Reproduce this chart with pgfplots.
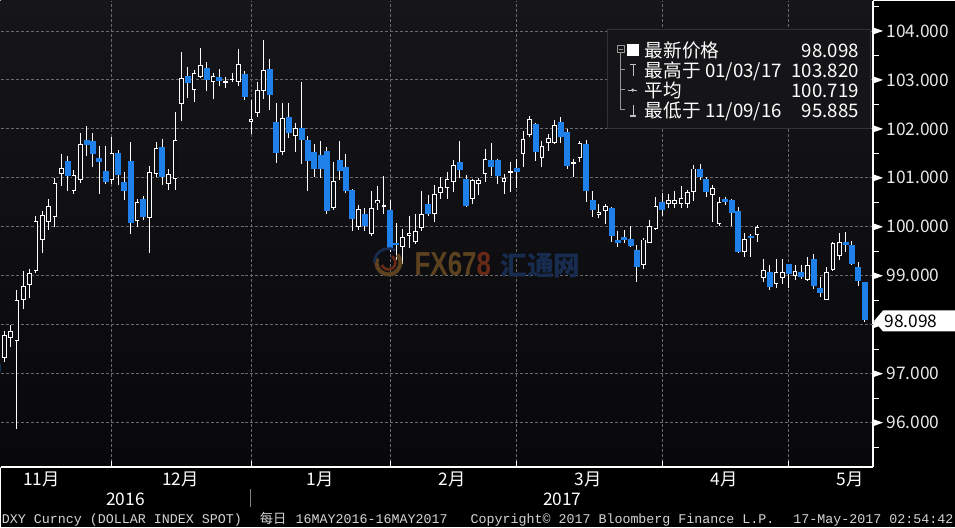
\documentclass[border=0pt]{standalone}
\usepackage{fontspec}
\usepackage{pgfplots}
\usepackage{pgfplotstable}
\pgfplotsset{compat=1.18}
\setmainfont{Noto Sans CJK SC}
\newfontfamily\mono{Liberation Mono}
\newfontfamily\cjk{Noto Sans CJK SC}
\newfontfamily\wm{Liberation Sans}

\definecolor{candleblue}{RGB}{30,128,232}
\definecolor{plotbg}{RGB}{14,14,18}
\definecolor{plottop}{RGB}{22,22,26}
\definecolor{plotbot}{RGB}{8,8,11}
\definecolor{gridc}{RGB}{105,105,110}
\definecolor{legbg}{RGB}{21,21,24}
\definecolor{legline}{RGB}{50,50,54}
\definecolor{treec}{RGB}{150,150,150}
\definecolor{foot}{RGB}{212,212,212}
\definecolor{wmorange}{RGB}{92,66,30}
\definecolor{wmred}{RGB}{104,42,22}
\definecolor{wmblue}{RGB}{24,44,80}

% i = trading day (0 = 09 Nov 2016): open, high, low, close
\pgfplotstableread{
i o h l c
-3 97.19 97.25 96.98 97.03
-2 97.34 97.88 97.24 97.78
-1 97.75 97.99 97.54 97.87
0 97.68 98.70 95.88 98.50
1 98.51 99.09 98.33 98.78
2 98.82 99.14 98.54 99.05
3 99.11 100.23 99.05 100.11
4 99.74 100.33 99.46 100.23
5 100.11 100.57 99.93 100.41
6 100.22 101.00 99.99 100.88
7 101.10 101.48 100.84 101.20
8 101.35 101.44 100.74 101.03
9 100.74 101.15 100.66 101.05
10 100.97 101.91 100.89 101.69
11 101.78 102.05 101.44 101.68
12 101.76 101.91 101.22 101.48
13 101.40 101.64 100.66 101.32
14 101.14 101.64 100.88 100.91
15 100.96 101.83 100.88 101.49
16 101.50 101.56 100.86 101.05
17 100.91 101.12 100.54 100.74
18 101.34 101.73 99.86 100.07
19 100.14 100.57 99.99 100.50
20 100.56 100.62 100.13 100.21
21 100.20 101.25 99.46 101.10
22 101.10 101.74 101.02 101.59
23 101.63 101.80 100.85 101.02
24 100.88 101.17 100.76 101.06
25 100.98 102.35 100.76 101.76
26 102.51 103.56 102.17 103.02
27 103.08 103.27 102.64 102.93
28 102.81 103.20 102.54 103.14
29 103.08 103.66 103.04 103.29
30 103.24 103.37 102.78 103.00
31 102.97 103.14 102.61 103.07
32 103.05 103.22 102.88 102.98
33 102.95 103.05 102.83 102.97
34 103.00 103.15 102.95 103.02
35 102.97 103.63 102.88 103.31
36 103.12 103.19 102.59 102.66
37 102.16 102.59 101.90 102.20
38 102.34 102.95 102.25 102.78
39 102.78 103.82 102.61 103.20
40 103.22 103.42 102.39 102.69
41 102.14 102.52 101.30 101.51
42 101.53 102.52 101.46 102.22
43 102.25 102.52 101.82 101.91
44 101.86 102.12 101.52 102.00
45 102.02 102.95 101.29 101.78
46 101.78 101.86 100.74 101.34
47 101.52 101.69 101.02 101.19
48 101.46 101.75 101.00 101.19
49 101.54 101.63 100.27 100.32
50 100.40 101.33 100.35 100.93
51 101.36 101.75 100.95 101.14
52 101.22 101.49 100.68 100.73
53 100.76 100.78 99.92 100.17
54 100.00 100.44 99.93 100.35
55 100.26 100.39 99.92 100.01
56 99.86 100.74 99.81 100.37
57 100.49 100.83 100.34 100.54
58 100.42 101.03 100.27 100.44
59 100.35 100.54 99.49 99.52
60 99.67 100.07 99.32 99.62
61 99.59 99.96 99.25 99.78
62 99.83 100.23 99.56 99.87
63 99.71 100.27 99.64 99.90
64 99.98 100.73 99.92 100.26
65 100.47 100.64 100.23 100.27
66 100.28 100.85 100.10 100.66
67 100.71 101.02 100.57 100.80
68 100.81 101.12 100.57 100.96
69 100.93 101.36 100.71 101.25
70 101.32 101.76 101.00 101.17
71 100.97 101.05 100.40 100.42
72 100.57 100.98 100.47 100.95
73 100.88 101.00 100.64 100.95
74 101.10 101.59 100.91 101.37
75 101.37 101.71 101.03 101.22
76 101.37 101.39 100.87 101.03
77 100.92 101.08 100.66 100.99
78 101.12 101.32 100.71 101.14
79 101.21 101.39 100.80 101.12
80 101.49 101.95 101.23 101.78
81 101.88 102.27 101.83 102.20
82 102.09 102.12 101.34 101.52
83 101.42 101.76 101.23 101.64
84 101.73 101.90 101.55 101.80
85 101.73 102.18 101.69 102.07
86 102.15 102.25 101.71 101.83
87 101.93 102.00 101.19 101.24
88 101.30 101.39 101.02 101.32
89 101.42 101.76 101.32 101.69
90 101.69 101.77 100.50 100.73
91 100.54 100.74 100.21 100.34
92 100.25 100.47 100.17 100.30
93 100.34 100.47 100.05 100.42
94 100.39 100.41 99.69 99.81
95 99.74 99.92 99.58 99.68
96 99.79 99.93 99.66 99.74
97 99.76 100.01 99.59 99.60
98 99.52 99.62 98.88 99.17
99 99.24 99.78 99.13 99.73
100 99.69 100.13 99.66 100.01
101 99.96 100.61 99.93 100.42
102 100.51 100.69 100.23 100.34
103 100.47 100.67 100.39 100.54
104 100.48 100.74 100.39 100.54
105 100.47 100.84 100.39 100.57
106 100.47 100.76 100.39 100.69
107 100.73 101.27 100.53 101.18
108 101.18 101.28 100.95 101.01
109 100.97 101.01 100.61 100.71
110 100.67 100.86 100.10 100.78
111 100.07 100.60 100.02 100.49
112 100.57 100.60 100.45 100.50
113 100.54 100.57 100.01 100.28
114 100.33 100.40 99.47 99.49
115 99.49 99.87 99.38 99.74
116 99.81 99.85 99.38 99.77
117 99.85 100.03 99.69 99.98
118 98.96 99.35 98.88 99.10
119 99.08 99.21 98.71 98.77
120 98.84 99.35 98.74 99.06
121 98.96 99.35 98.84 99.07
122 99.23 99.25 98.74 99.04
123 99.01 99.21 98.91 99.08
124 99.07 99.21 98.94 98.98
125 98.92 99.38 98.90 99.21
126 99.35 99.45 98.72 98.79
127 98.76 98.98 98.56 98.64
128 98.52 99.17 98.50 99.06
129 99.13 99.69 99.10 99.66
130 99.42 99.87 99.33 99.67
131 99.69 99.89 99.49 99.62
132 99.62 99.71 99.21 99.25
133 99.17 99.28 98.79 98.90
134 98.87 98.88 98.06 98.10
}\dxy

% falling days (open above close): blue bodies
\pgfplotstableread{
i o c
-3 97.19 97.03
8 101.35 101.03
11 101.78 101.68
12 101.76 101.48
13 101.40 101.32
14 101.14 100.91
16 101.50 101.05
17 100.91 100.74
18 101.34 100.07
20 100.56 100.21
23 101.63 101.02
27 103.08 102.93
30 103.24 103.00
32 103.05 102.98
36 103.12 102.66
40 103.22 102.69
41 102.14 101.51
43 102.25 101.91
45 102.02 101.78
46 101.78 101.34
47 101.52 101.19
48 101.46 101.19
49 101.54 100.32
51 101.36 101.14
52 101.22 100.73
53 100.76 100.17
55 100.26 100.01
59 100.35 99.52
60 99.67 99.62
65 100.47 100.27
70 101.32 101.17
71 100.97 100.42
75 101.37 101.22
76 101.37 101.03
79 101.21 101.12
82 102.09 101.52
86 102.15 101.83
87 101.93 101.24
90 101.69 100.73
91 100.54 100.34
94 100.39 99.81
95 99.74 99.68
96 99.79 99.74
97 99.76 99.60
98 99.52 99.17
102 100.51 100.34
108 101.18 101.01
109 100.97 100.71
112 100.57 100.50
113 100.54 100.28
114 100.33 99.49
116 99.81 99.77
119 99.08 98.77
122 99.23 99.04
124 99.07 98.98
126 99.35 98.79
127 98.76 98.64
131 99.69 99.62
132 99.62 99.25
133 99.17 98.90
134 98.87 98.10
}\dxydown

% rising days (close above open): hollow bodies
\pgfplotstableread{
i o c
-2 97.34 97.78
-1 97.75 97.87
0 97.68 98.50
1 98.51 98.78
2 98.82 99.05
3 99.11 100.11
4 99.74 100.23
5 100.11 100.41
6 100.22 100.88
7 101.10 101.20
9 100.74 101.05
10 100.97 101.69
15 100.96 101.49
19 100.14 100.50
21 100.20 101.10
22 101.10 101.59
24 100.88 101.06
25 100.98 101.76
26 102.51 103.02
28 102.81 103.14
29 103.08 103.29
31 102.97 103.07
35 102.97 103.31
37 102.16 102.20
38 102.34 102.78
39 102.78 103.20
42 101.53 102.22
44 101.86 102.00
50 100.40 100.93
54 100.00 100.35
56 99.86 100.37
57 100.49 100.54
61 99.59 99.78
62 99.83 99.87
63 99.71 99.90
64 99.98 100.26
66 100.28 100.66
67 100.71 100.80
68 100.81 100.96
69 100.93 101.25
72 100.57 100.95
73 100.88 100.95
74 101.10 101.37
77 100.92 100.99
80 101.49 101.78
81 101.88 102.20
83 101.42 101.64
84 101.73 101.80
85 101.73 102.07
89 101.42 101.69
92 100.25 100.30
93 100.34 100.42
99 99.24 99.73
100 99.69 100.01
101 99.96 100.42
103 100.47 100.54
104 100.48 100.54
105 100.47 100.57
106 100.47 100.69
107 100.73 101.18
110 100.67 100.78
111 100.07 100.49
115 99.49 99.74
117 99.85 99.98
118 98.96 99.10
120 98.84 99.06
121 98.96 99.07
123 99.01 99.08
125 98.92 99.21
128 98.52 99.06
129 99.13 99.66
130 99.42 99.67
}\dxyup

% near-doji days
\pgfplotstableread{
i o c
33 102.95 102.97
34 103.00 103.02
58 100.42 100.44
78 101.12 101.14
88 101.30 101.32
}\dxydoji

\begin{document}
\begin{tikzpicture}
\begin{scope}[x=0.75pt,y=-0.75pt]
\fill[black] (0,0) rectangle (955,527);
\path[use as bounding box] (0,0) rectangle (955,527);
\end{scope}

\begin{axis}[
  at={(0,0)}, anchor=north west,
  scale only axis, width=654.75pt, height=350pt,
  xmin=-2.575, xmax=135.34, ymin=95.094, ymax=104.618,
  axis background/.style={top color=plottop, bottom color=plotbot},
  axis x line*=bottom, axis y line*=right,
  axis line style={white, line width=1pt},
  xtick={15,37,59,79,102,122}, xticklabels={},
  ytick={96,97,99,100,101,102,103,104},
  extra y ticks={98}, extra y tick labels={}, extra y tick style={grid=major},
  tick align=inside, major tick length=4.5pt,
  xtick style={white, line width=0.75pt},
  ytick style={draw=none},
  grid=major,
  major grid style={gridc, line width=0.6pt, dash pattern=on 2.25pt off 1.5pt},
  /pgf/number format/assume math mode=true,
  yticklabel={\pgfmathprintnumber[fixed,fixed zerofill,precision=3]{\tick}},
  yticklabel style={anchor=west, inner sep=0pt, xshift=10pt, text={rgb,255:red,232;green,232;blue,232}, font=\fontsize{13pt}{15pt}\selectfont},
  scaled y ticks=false,
  candle/.style={draw=none, mark=none, forget plot,
    error bars/y dir=both, error bars/y explicit, error bars/error mark=none},
]
% wicks (high-low)
\addplot[candle, error bars/error bar style={draw=white, line width=0.75pt, line cap=butt}]
  table[x=i, y=c, y error plus expr=\thisrow{h}-\thisrow{c}, y error minus expr=\thisrow{c}-\thisrow{l}] {\dxy};
% falling bodies (blue)
\addplot[candle, error bars/error bar style={draw=candleblue, line width=4.5pt, line cap=butt}]
  table[x=i, y expr={(\thisrow{o}+\thisrow{c})/2}, y error expr={(\thisrow{o}-\thisrow{c})/2}] {\dxydown};
% rising bodies: white outline
\addplot[candle, error bars/error bar style={draw=white, line width=3.5pt, line cap=butt}]
  table[x=i, y expr={(\thisrow{o}+\thisrow{c})/2}, y error expr={(\thisrow{c}-\thisrow{o})/2+0.011}] {\dxyup};
% rising bodies: dark inside
\addplot[candle, error bars/error bar style={draw=plotbg, line width=2.2pt, line cap=butt}]
  table[x=i, y expr={(\thisrow{o}+\thisrow{c})/2}, y error expr={(\thisrow{c}-\thisrow{o})/2-0.009}] {\dxyup};
% near-doji bodies
\addplot[candle, error bars/error bar style={draw=white, line width=3.5pt, line cap=butt}]
  table[x=i, y expr={(\thisrow{o}+\thisrow{c})/2}, y error expr={(\thisrow{c}-\thisrow{o})/2+0.006}] {\dxydoji};
\end{axis}

\begin{scope}[x=0.75pt,y=-0.75pt]
% watermark
\draw[wmorange, line width=3] (388,262) ++(200:12) arc[start angle=200, end angle=-40, radius=12];
\draw[wmred, line width=2] (388,262) ++(160:7) arc[start angle=160, end angle=-60, radius=7];
\draw[wmblue, line width=2] (388,262) ++(-60:14) arc[start angle=-60, end angle=-180, radius=14];
\node[anchor=base west, inner sep=0, text=wmorange, font=\wm\bfseries\fontsize{25pt}{25pt}\selectfont, xscale=0.78] at (414,275) {FX67\textcolor{wmred}{8}};
\node[anchor=base west, inner sep=0, text=wmblue, font=\cjk\bfseries\fontsize{20pt}{20pt}\selectfont] at (500,275) {汇通网};

% right axis decorations
\foreach \v in {96,...,104} {
  \pgfmathsetmacro\yy{30.3+(104-\v)*49}
  \fill[white] (874,\yy-3.2) -- (883,\yy) -- (874,\yy+3.2) -- cycle;
}
\foreach \v in {95.5,96.5,...,104.5} {
  \pgfmathsetmacro\yy{30.3+(104-\v)*49}
  \draw[white, line width=0.75pt] (873,\yy) -- (879,\yy);
}
% last price tag
\fill[white] (874,320.5) -- (883,310) -- (955,310) -- (955,331) -- (883,331) -- cycle;
\node[anchor=base, inner sep=0, text=black, font=\fontsize{13pt}{15pt}\selectfont] at (911,327) {98.098};

% legend
\fill[legbg] (607,29) rectangle (870,128);
\draw[legline, line width=0.75] (607,29) rectangle (870,128);
\draw[treec, line width=0.6] (617,45) rectangle (624,52);
\draw[treec, line width=0.6] (618.5,48.5) -- (622.5,48.5);
\draw[treec, line width=0.6] (620.5,52) -- (620.5,109) -- (625,109);
\draw[treec, line width=0.6] (620.5,69) -- (625,69);
\draw[treec, line width=0.6] (620.5,89) -- (625,89);
\fill[white] (627,43) rectangle (639,55);
\draw[treec!60!white, line width=0.9] (630,63.5) -- (636,63.5) (633,63.5) -- (633,75);
\draw[treec!60!white, line width=0.9] (628,89.5) -- (637,89.5);
\fill[treec!60!white] (632.5,89.5) circle (1.8);
\draw[treec!60!white, line width=0.9] (633,104) -- (633,115.5) (630,115.5) -- (636,115.5);
\begin{scope}[every node/.style={inner sep=0, text=white, font=\fontsize{14pt}{16pt}\selectfont}]
\node[anchor=base west] at (644.5,56.5) {最新价格};
\node[anchor=base east] at (859,56.5) {98.098};
\node[anchor=base west] at (644.5,76.5) {最高于 01/03/17};
\node[anchor=base east] at (859,76.5) {103.820};
\node[anchor=base west] at (644.5,96.5) {平均};
\node[anchor=base east] at (859,96.5) {100.719};
\node[anchor=base west] at (644.5,116.5) {最低于 11/09/16};
\node[anchor=base east] at (859,116.5) {95.885};
\end{scope}

% month labels
\foreach \x/\t in {41/11月, 180/12月, 320/1月, 452/2月, 588/3月, 724/4月, 850/5月}
  \node[anchor=base, inner sep=0, text=white, font=\fontsize{13pt}{15pt}\selectfont] at (\x,485.5) {\t};
\node[anchor=base, inner sep=0, text=white, font=\fontsize{13pt}{15pt}\selectfont] at (125,505) {2016};
\node[anchor=base, inner sep=0, text=white, font=\fontsize{13pt}{15pt}\selectfont] at (562,505) {2017};
\draw[gray, line width=0.75] (250,489) -- (250,507);

% footer
\begin{scope}[every node/.style={anchor=base west, inner sep=0, text=foot, font=\mono\fontsize{10pt}{12pt}\selectfont}]
\node at (1,523) {DXY Curncy (DOLLAR INDEX SPOT)};
\node[font=\cjk\fontsize{10pt}{12pt}\selectfont] at (259,523) {每日};
\node at (295,523) {16MAY2016-16MAY2017};
\node at (470,523) {Copyright© 2017 Bloomberg Finance L.P.};
\node at (793,523) {17-May-2017 02:54:42};
\end{scope}
\end{scope}
\end{tikzpicture}
\end{document}
